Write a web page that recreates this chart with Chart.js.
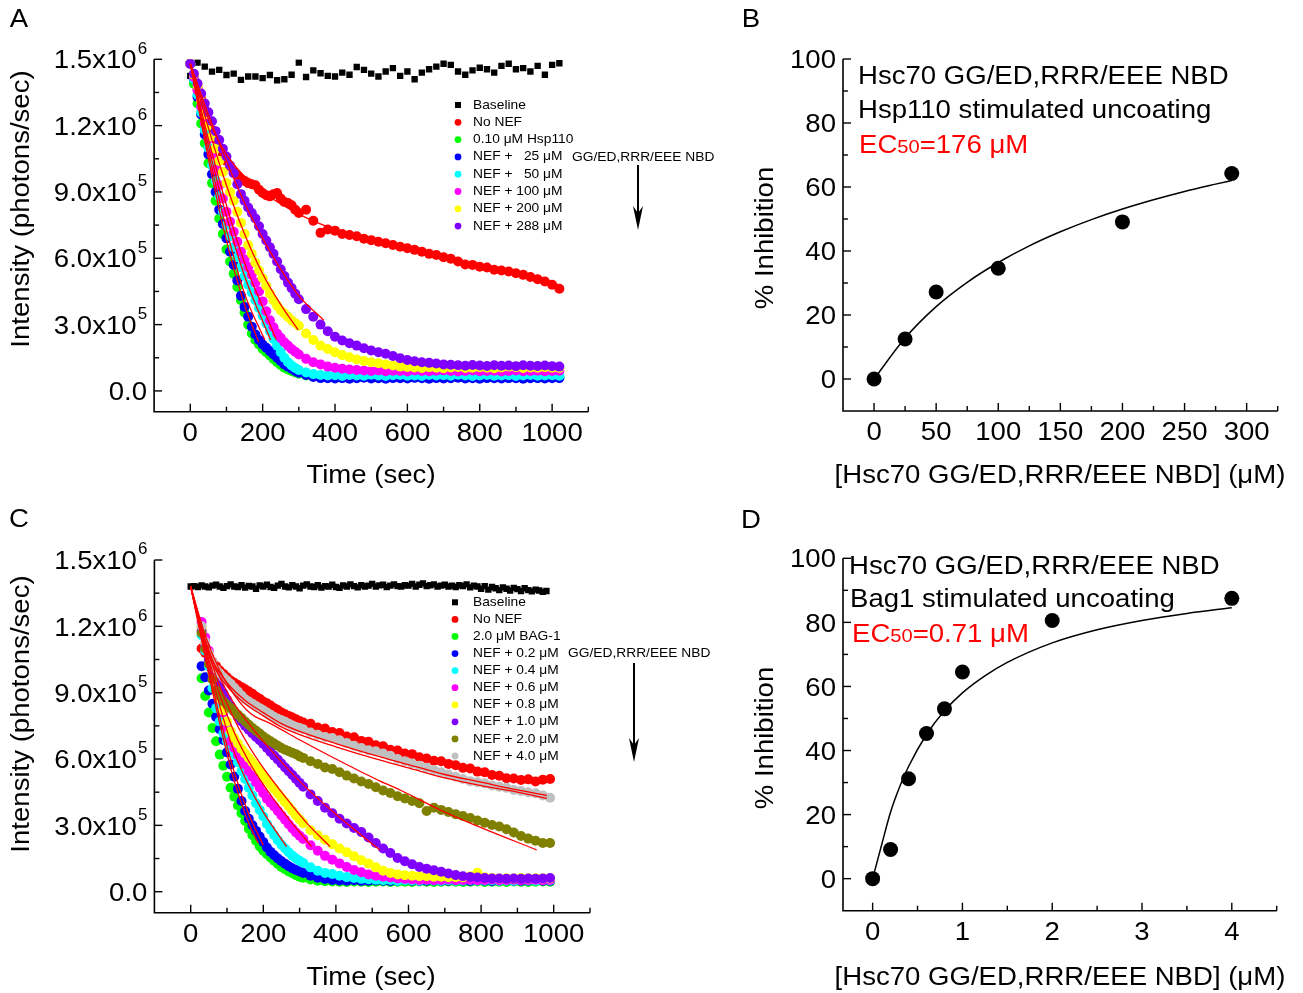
<!DOCTYPE html>
<html>
<head>
<meta charset="utf-8">
<script src="https://cdn.jsdelivr.net/npm/chart.js@4.4.1/dist/chart.umd.min.js"></script>
<style>
  body { margin: 0; background: #fff; }
  canvas { position: absolute; left: 0; top: 0; }
</style>
</head>
<body>
<canvas id="cA" width="1303" height="993"></canvas>
<canvas id="cB" width="1303" height="993"></canvas>
<canvas id="cC" width="1303" height="993"></canvas>
<canvas id="cD" width="1303" height="993"></canvas>
<script>
// ---------- data (intensity values in units of 1e5 photons/sec) ----------
// panel A: readings every 10 s for the fast part, every 20 s afterwards
const tEarlyA = [0,10,20,30,40,50,60,70,80,90,100,110,120,130,140,150,160,170,180,190,
  200,210,220,230,240,250,260,270,280,290,300];
const tLateA = [320,340,360,380,400,420,440,460,480,500,520,540,560,580,600,620,640,660,680,700,
  720,740,760,780,800,820,840,860,880,900,920,940,960,980,1000,1020];
const tBaseA = [0,20,40,60,80,100,120,140,160,180,200,220,240,260,280,300,320,340,360,380,
  400,420,440,460,480,500,520,540,560,580,600,620,640,660,680,700,720,740,760,780,
  800,820,840,860,880,900,920,940,960,980,1000,1020];

const baseA = [14.25,14.85,14.67,14.44,14.52,14.29,14.35,14.07,14.22,14.22,
  14.15,14.29,14.05,14.1,14.3,14.85,14.2,14.5,14.37,14.25,
  14.22,14.4,14.3,14.65,14.52,14.35,14.22,14.45,14.6,14.25,
  14.45,14.1,14.4,14.55,14.67,14.8,14.75,14.45,14.3,14.5,
  14.62,14.55,14.4,14.7,14.8,14.55,14.6,14.45,14.7,14.3,
  14.75,14.82];

const noNefA_early = [14.8,14.2,13.7,13.2,12.7,12.2,11.8,11.4,11.0,10.7,10.4,10.15,9.9,9.75,9.6,9.5,
  9.4,9.35,9.3,9.1,8.95,8.85,8.8,8.9,8.95,8.7,8.55,8.5,8.4,8.2,8.05];
const noNefA_late = [8.2,7.7,7.15,7.3,7.25,7.1,7.05,7.0,6.88,6.82,6.75,6.68,6.6,6.52,6.45,6.38,6.3,6.2,
  6.15,6.05,5.98,5.85,5.72,5.7,5.62,5.58,5.48,5.45,5.4,5.32,5.25,5.15,5.05,4.95,4.8,4.62];
const hsp110A_early = [14.8,13.9,13.0,12.1,11.2,10.3,9.4,8.6,7.8,7.1,6.4,5.85,5.3,4.7,4.1,3.55,
  3.0,2.6,2.3,2.1,1.9,1.75,1.6,1.45,1.3,1.17,1.05,0.97,0.9,0.84,0.78];
const hsp110A_late = [0.7,0.67,0.65,0.64,0.65,0.63,0.66,0.64,0.65,0.63,0.64,0.66,0.65,0.64,0.63,0.65,0.64,0.66,
  0.65,0.63,0.64,0.65,0.66,0.64,0.63,0.65,0.64,0.65,0.66,0.64,0.63,0.65,0.64,0.65,0.64,0.63];
const nef25A_early = [14.8,14.1,13.3,12.5,11.6,10.7,9.8,9.0,8.2,7.55,6.9,6.3,5.7,5.0,4.3,3.8,
  3.36,2.9,2.55,2.3,2.1,1.95,1.8,1.65,1.5,1.35,1.2,1.1,1.0,0.9,0.82];
const nef25A_late = [0.72,0.63,0.58,0.57,0.56,0.58,0.55,0.57,0.6,0.56,0.57,0.55,0.58,0.57,0.56,0.59,0.57,0.55,
  0.58,0.56,0.57,0.6,0.56,0.57,0.55,0.58,0.57,0.56,0.58,0.57,0.55,0.57,0.58,0.56,0.57,0.58];
const nef50A_early = [14.8,14.1,13.4,12.6,11.8,11.0,10.2,9.5,8.8,8.1,7.5,7.0,6.5,6.05,5.6,5.2,
  4.8,4.45,4.1,3.75,3.4,3.05,2.7,2.35,2.05,1.75,1.5,1.3,1.15,1.04,0.95];
const nef50A_late = [0.83,0.76,0.72,0.7,0.71,0.68,0.72,0.7,0.69,0.73,0.7,0.68,0.71,0.72,0.69,0.7,0.68,0.72,
  0.7,0.71,0.69,0.73,0.7,0.68,0.7,0.72,0.69,0.7,0.71,0.68,0.7,0.72,0.69,0.7,0.71,0.69];
const nef100A_early = [14.8,14.2,13.6,12.85,12.1,11.4,10.7,10.0,9.3,8.7,8.1,7.65,7.2,6.75,6.3,5.95,
  5.6,5.25,4.9,4.5,4.05,3.6,3.2,2.88,2.6,2.4,2.2,2.05,1.9,1.77,1.65];
const nef100A_late = [1.45,1.3,1.2,1.1,1.05,1.0,0.97,0.95,0.92,0.9,0.93,0.89,0.91,0.9,0.88,0.92,0.9,0.89,
  0.91,0.93,0.9,0.88,0.9,0.92,0.89,0.9,0.91,0.88,0.9,0.92,0.89,0.9,0.91,0.89,0.9,0.91];
const nef200A_early = [14.8,14.3,13.8,13.1,12.5,12.0,11.5,10.95,10.4,9.9,9.4,9.0,8.6,8.1,7.6,7.1,
  6.6,6.2,5.8,5.45,5.1,4.75,4.4,4.1,3.85,3.65,3.5,3.35,3.2,3.07,2.95];
const nef200A_late = [2.6,2.3,2.05,1.9,1.75,1.62,1.52,1.42,1.35,1.3,1.25,1.2,1.15,1.1,1.08,1.06,1.04,1.07,
  1.05,1.03,1.06,1.08,1.04,1.05,1.07,1.05,1.03,1.06,1.1,1.07,1.04,1.06,1.05,1.07,1.05,1.04];
const nef288A_early = [14.8,14.35,13.9,13.45,13.0,12.6,12.2,11.75,11.35,10.95,10.6,10.2,9.85,9.35,8.9,8.6,
  8.3,8.05,7.8,7.45,7.1,6.8,6.5,6.2,5.85,5.5,5.2,4.9,4.65,4.4,4.15];
const nef288A_late = [3.7,3.36,3.0,2.7,2.45,2.28,2.16,2.05,1.93,1.83,1.75,1.68,1.58,1.48,1.4,1.34,1.3,1.27,
  1.24,1.2,1.18,1.16,1.14,1.17,1.15,1.13,1.16,1.14,1.15,1.12,1.16,1.14,1.13,1.15,1.12,1.1];

// fitted curves, panel A (time, value)
const fitA_noNef_t = [0,50,100,150,200,300,400,500,600,700,800,900,1020];
const fitA_noNef_v = [14.8,12.3,10.7,9.7,9.0,8.0,7.3,6.8,6.4,6.0,5.7,5.3,4.8];
const fitA_hsp_t = [0,50,100,150,189];
const fitA_hsp_v = [14.8,10.5,6.8,3.9,2.2];
const fitA_25_t = [0,50,100,150,206];
const fitA_25_v = [14.8,10.8,7.3,4.4,2.3];
const fitA_50_t = [0,50,100,150,222];
const fitA_50_v = [14.8,11.1,7.9,5.2,2.3];
const fitA_100_t = [0,50,100,150,200,238];
const fitA_100_v = [14.8,11.4,8.4,5.8,3.8,2.3];
const fitA_200_t = [0,50,100,150,200,250,298];
const fitA_200_v = [14.8,11.9,9.3,7.1,5.3,3.9,2.76];
const fitA_288_t = [0,50,100,150,200,250,300,369];
const fitA_288_v = [14.8,12.5,10.4,8.5,6.9,5.5,4.3,3.2];

// panel C
const tBaseC = [0,10,20,30,40,50,60,70,80,90,100,110,120,130,140,150,160,170,180,190,
  200,210,220,230,240,250,260,270,280,290,300,310,320,330,340,350,360,370,380,390,
  400,410,420,430,440,450,460,470,480,490,500,510,520,530,540,550,560,570,580,590,
  600,610,620,630,640,650,660,670,680,690,700,710,720,730,740,750,760,770,780,790,
  800,810,820,830,840,850,860,870,880,890,900,910,920,930,940,950,960,970,980];
const tEarlyC = [30,40,50,60,70,80,90,100,110,120,130,140,150,160,170,180,190,200,210,220,
  230,240,250,260,270,280,290,300,310];
const tLateC = [330,350,370,390,410,430,450,470,490,510,530,550,570,590,610,630,650,670,690,710,
  730,750,770,790,810,830,850,870,890,910,930,950,970,990];

const baseC = [13.8,13.82,13.78,13.85,13.8,13.76,13.84,13.88,13.8,13.74,
  13.82,13.9,13.8,13.78,13.86,13.75,13.83,13.8,13.7,13.85,
  13.8,13.88,13.78,13.74,13.84,13.92,13.8,13.76,13.86,13.8,
  13.72,13.84,13.9,13.8,13.78,13.86,13.75,13.82,13.8,13.88,
  13.78,13.74,13.85,13.8,13.9,13.82,13.76,13.86,13.8,13.84,
  13.92,13.8,13.85,13.88,13.78,13.84,13.9,13.82,13.8,13.86,
  13.84,13.92,13.8,13.88,13.94,13.82,13.86,13.9,13.8,13.84,
  13.88,13.8,13.84,13.78,13.86,13.82,13.9,13.76,13.84,13.8,
  13.7,13.82,13.66,13.78,13.72,13.64,13.76,13.7,13.62,13.74,
  13.68,13.6,13.72,13.64,13.58,13.66,13.62,13.56,13.6];

const noNefC_early = [11.0,10.8,10.6,10.4,10.2,10.0,9.85,9.7,9.55,9.45,9.35,9.25,9.15,9.05,8.95,
  8.82,8.72,8.6,8.52,8.42,8.3,8.22,8.1,8.02,7.95,7.88,7.8,7.72,7.65];
const noNefC_late = [7.6,7.42,7.38,7.22,7.18,7.02,6.98,6.82,6.78,6.62,6.58,6.42,6.38,6.25,6.22,6.08,6.02,
  5.92,5.9,5.78,5.72,5.6,5.57,5.43,5.4,5.28,5.24,5.13,5.12,5.05,5.08,4.98,5.06,5.1];
const bag1C_early = [9.65,8.85,8.1,7.4,6.8,6.2,5.7,5.2,4.7,4.3,3.9,3.55,3.2,2.85,2.55,
  2.3,2.05,1.85,1.7,1.55,1.4,1.25,1.12,1.02,0.92,0.83,0.75,0.68,0.63];
const bag1C_late = [0.55,0.5,0.47,0.46,0.45,0.44,0.46,0.45,0.44,0.45,0.46,0.44,0.45,0.45,0.44,0.46,0.45,
  0.44,0.45,0.46,0.45,0.44,0.45,0.46,0.44,0.45,0.45,0.44,0.46,0.45,0.44,0.45,0.46,0.45];
const nef02C_early = [10.2,9.7,9.1,8.5,7.9,7.35,6.86,6.3,5.75,5.2,4.65,4.1,3.65,3.3,3.0,
  2.75,2.5,2.25,2.0,1.8,1.65,1.5,1.38,1.26,1.15,1.06,0.98,0.91,0.85];
const nef02C_late = [0.72,0.63,0.57,0.53,0.51,0.5,0.52,0.49,0.5,0.51,0.5,0.48,0.5,0.52,0.5,0.49,0.5,
  0.51,0.49,0.5,0.52,0.5,0.49,0.51,0.5,0.48,0.5,0.51,0.5,0.49,0.5,0.52,0.5,0.49];
const nef04C_early = [11.6,10.9,10.2,9.2,8.3,7.7,7.15,6.8,6.5,6.2,5.85,5.45,5.1,4.7,4.35,
  4.0,3.7,3.4,3.06,2.8,2.55,2.33,2.12,1.95,1.78,1.63,1.5,1.4,1.3];
const nef04C_late = [1.1,0.95,0.85,0.8,0.72,0.66,0.62,0.58,0.56,0.54,0.52,0.53,0.5,0.52,0.51,0.5,0.53,
  0.51,0.5,0.52,0.5,0.51,0.53,0.5,0.51,0.52,0.5,0.51,0.5,0.52,0.51,0.5,0.52,0.51];
const nef06C_early = [12.2,11.5,10.9,10.2,9.5,8.8,8.1,7.4,6.8,6.5,6.2,5.95,5.75,5.45,5.2,
  4.95,4.7,4.45,4.2,4.02,3.85,3.65,3.45,3.25,3.05,2.86,2.68,2.53,2.38];
const nef06C_late = [2.1,1.85,1.62,1.45,1.28,1.12,0.98,0.88,0.78,0.72,0.68,0.64,0.6,0.57,0.55,0.53,0.54,
  0.52,0.53,0.55,0.52,0.53,0.54,0.52,0.53,0.55,0.52,0.53,0.54,0.52,0.53,0.54,0.52,0.53];
const nef08C_early = [11.9,11.2,10.5,9.9,9.3,8.75,8.2,7.7,7.25,6.95,6.7,6.45,6.25,6.05,5.85,
  5.65,5.45,5.25,5.05,4.85,4.65,4.45,4.25,4.05,3.85,3.65,3.45,3.27,3.1];
const nef08C_late = [2.78,2.55,2.35,2.15,1.95,1.78,1.6,1.42,1.27,1.1,0.95,0.85,0.78,0.74,0.72,0.7,0.7,
  0.68,0.68,0.66,0.66,0.65,0.7,0.86,0.65,0.62,0.6,0.61,0.6,0.62,0.6,0.61,0.6,0.6];
const nef10C_early = [11.8,11.1,10.5,10.0,9.6,9.25,8.97,8.68,8.4,8.15,7.9,7.7,7.5,7.32,7.15,
  7.0,6.85,6.68,6.5,6.32,6.15,5.98,5.8,5.62,5.45,5.28,5.1,4.92,4.75];
const nef10C_late = [4.4,4.1,3.8,3.55,3.3,3.08,2.88,2.7,2.45,2.2,1.95,1.75,1.52,1.38,1.24,1.12,1.04,
  0.97,0.9,0.82,0.75,0.7,0.67,0.64,0.62,0.6,0.6,0.59,0.6,0.58,0.6,0.59,0.6,0.62];
const nef20C_early = [11.7,11.0,10.3,9.6,9.1,8.85,8.6,8.45,8.3,8.15,8.0,7.85,7.7,7.55,7.4,
  7.28,7.15,7.02,6.9,6.8,6.7,6.6,6.5,6.42,6.35,6.28,6.22,6.12,6.05];
const nef20C_late = [5.9,5.78,5.62,5.55,5.4,5.25,5.12,4.98,4.87,4.72,4.58,4.46,4.32,4.22,4.1,4.0,3.65,
  3.8,3.7,3.6,3.5,3.42,3.33,3.22,3.12,3.02,2.95,2.82,2.68,2.52,2.4,2.3,2.2,2.2];
const nef40C_early = [12.0,11.3,10.8,10.4,10.05,9.87,9.7,9.55,9.4,9.22,9.05,8.87,8.7,8.6,8.5,
  8.4,8.3,8.2,8.1,8.0,7.9,7.82,7.75,7.68,7.6,7.52,7.45,7.4,7.35];
const nef40C_late = [7.2,7.1,7.0,6.95,6.85,6.72,6.6,6.5,6.4,6.35,6.25,6.15,6.0,5.9,5.8,5.7,5.6,
  5.5,5.4,5.3,5.2,5.1,5.0,4.95,4.9,4.8,4.75,4.7,4.6,4.55,4.5,4.45,4.35,4.25];

// fitted curves, panel C
const fitC_slow_t = [0,30,60,100,150,200,250,300,400,500,600,700,800,900,981];
const fitC_noNef_v = [13.8,11.7,10.45,9.45,8.65,8.1,7.6,7.25,6.7,6.2,5.75,5.3,4.95,4.6,4.35];
const fitC_40_v = [13.8,11.6,10.3,9.3,8.5,7.95,7.45,7.1,6.55,6.05,5.6,5.15,4.8,4.5,4.22];
const fitC_20_t = [0,40,80,120,164,220,301,400,522,577,700,800,953];
const fitC_20_v = [13.8,11.6,10.0,8.9,8.07,7.6,6.86,6.0,5.0,4.6,3.6,2.9,1.89];
const fitC_10_t = [0,40,80,120,160,200,300,400,521];
const fitC_10_v = [13.8,11.4,9.7,8.5,7.6,6.8,5.0,3.5,1.89];
const fitC_08_t = [0,40,80,120,160,200,260,320,384];
const fitC_08_v = [13.8,11.3,9.3,7.8,6.6,5.6,4.3,3.1,2.04];
const fitC_06_t = [0,40,80,120,160,200,260,333];
const fitC_06_v = [13.8,11.1,8.9,7.2,5.9,4.85,3.5,2.04];
const fitC_04_t = [0,40,80,120,160,200,264];
const fitC_04_v = [13.8,11.0,8.4,6.3,4.8,3.6,2.04];
const fitC_02_t = [0,40,80,120,160,200];
const fitC_02_v = [13.8,10.8,7.9,5.4,3.5,2.1];
const fitC_bag_t = [0,40,80,120,160,186];
const fitC_bag_v = [13.8,10.6,7.6,5.0,3.1,2.2];

// panels B and D (% inhibition)
const concB = [0,25,50,100,200,288];
const inhB = [0,12.5,27.2,34.6,49.1,64.2];
const fitB_x = [0,25,50,75,100,125,150,175,200,225,250,275,288];
const fitB_y = [0,12.8,22.6,30.2,36.4,41.6,46.0,49.8,53.1,56.0,58.6,60.9,62.05];
const concD = [0,0.2,0.4,0.6,0.8,1.0,2.0,4.0];
const inhD = [0,9.1,31.2,45.3,53,64.5,80.6,87.5];
const fitD_x = [0,0.1,0.2,0.3,0.4,0.6,0.8,1.0,1.25,1.5,2,2.5,3,3.5,4];
const fitD_y = [0,10.5,20.8,28.6,35.0,45.0,52.4,58.0,63.3,67.5,73.6,77.7,80.6,82.8,84.6];

// legends
const legendA = ['Baseline','No NEF','0.10 \u03bcM Hsp110','NEF +   25 \u03bcM','NEF +   50 \u03bcM',
  'NEF + 100 \u03bcM','NEF + 200 \u03bcM','NEF + 288 \u03bcM'];
const legendC = ['Baseline','No NEF','2.0 \u03bcM BAG-1','NEF + 0.2 \u03bcM','NEF + 0.4 \u03bcM',
  'NEF + 0.6 \u03bcM','NEF + 0.8 \u03bcM','NEF + 1.0 \u03bcM','NEF + 2.0 \u03bcM','NEF + 4.0 \u03bcM'];

// ticks
const timeTicks = [0,200,400,600,800,1000];
const timeTickLabels = ['0','200','400','600','800','1000'];
const timeMinor = [100,300,500,700,900,1100];
const intTicks = [0,3,6,9,12,15];
const intTickLabels = ['0.0','3.0x10^5','6.0x10^5','9.0x10^5','1.2x10^6','1.5x10^6'];
const intMinor = [1.5,4.5,7.5,10.5,13.5];
const concTicksB = [0,50,100,150,200,250,300];
const concTickLabelsB = ['0','50','100','150','200','250','300'];
const concMinorB = [25,75,125,175,225,275,325];
const concTicksD = [0,1,2,3,4];
const concTickLabelsD = ['0','1','2','3','4'];
const concMinorD = [0.5,1.5,2.5,3.5,4.5];
const inhTicks = [0,20,40,60,80,100];
const inhTickLabels = ['0','20','40','60','80','100'];
const inhMinor = [10,30,50,70,90];

// ---------- drawing helpers ----------
const FONT = "'Liberation Sans', Arial, sans-serif";
const SX = 1.06;   // the figure is slightly wider than tall
const C = { black:'#000000', red:'#ff0000', green:'#00ff00', blue:'#0000ff', cyan:'#00ffff',
  magenta:'#ff00ff', yellow:'#ffff00', purple:'#8000ff', olive:'#808000', gray:'#c0c0c0' };

function txt(ctx, s, x, y, size, o = {}) {
  ctx.save();
  ctx.translate(x, y);
  if (o.rot) ctx.rotate(o.rot);
  ctx.scale(SX, 1);
  ctx.font = size + 'px ' + FONT;
  ctx.fillStyle = o.color || '#000';
  ctx.textAlign = o.align || 'left';
  ctx.textBaseline = o.base || 'middle';
  ctx.fillText(s, 0, 0);
  ctx.restore();
}

function powLabel(ctx, s, xr, y) {
  const [b, p] = s.split('^');
  ctx.save();
  ctx.translate(xr, y);
  ctx.scale(SX, 1);
  ctx.fillStyle = '#000';
  ctx.textBaseline = 'middle';
  ctx.textAlign = 'left';
  ctx.font = '16px ' + FONT;
  const pw = p ? ctx.measureText(p).width + 1 : 0;
  ctx.font = '26px ' + FONT;
  const bw = ctx.measureText(b).width;
  ctx.fillText(b, -bw - pw, 2);
  if (p) { ctx.font = '16px ' + FONT; ctx.fillText(p, -pw + 1, -10); }
  ctx.restore();
}

function ecLabel(ctx, x, y, tail) {
  ctx.save();
  ctx.translate(x, y);
  ctx.scale(SX, 1);
  ctx.fillStyle = C.red;
  ctx.textBaseline = 'alphabetic';
  ctx.font = '26px ' + FONT;
  ctx.fillText('EC', 0, 0);
  let w = ctx.measureText('EC').width;
  ctx.font = '19px ' + FONT;
  ctx.fillText('50', w, 0);
  w += ctx.measureText('50').width;
  ctx.font = '26px ' + FONT;
  ctx.fillText(tail, w, 0);
  ctx.restore();
}

function arrow(ctx, x, y0, y1) {
  ctx.save();
  ctx.strokeStyle = '#000';
  ctx.fillStyle = '#000';
  ctx.lineWidth = 2;
  ctx.beginPath(); ctx.moveTo(x, y0); ctx.lineTo(x, y1 - 12); ctx.stroke();
  ctx.beginPath();
  ctx.moveTo(x, y1); ctx.lineTo(x - 5, y1 - 24); ctx.lineTo(x, y1 - 17); ctx.lineTo(x + 5, y1 - 24);
  ctx.closePath(); ctx.fill();
  ctx.restore();
}

function drawLegend(ctx, labels, colors, mx, tx, y0, dy) {
  labels.forEach((lab, i) => {
    const y = y0 + i * dy;
    ctx.fillStyle = colors[i];
    if (i === 0) ctx.fillRect(mx - 3, y - 3, 6, 6);
    else { ctx.beginPath(); ctx.arc(mx, y, 3.4, 0, Math.PI * 2); ctx.fill(); }
    txt(ctx, lab, tx, y, 13);
  });
}

// axes: L-shaped frame with inward ticks
function framePlugin(cfg) {
  return {
    id: 'frame',
    afterDraw(chart) {
      const { ctx, chartArea: a } = chart;
      const xs = chart.scales.x, ys = chart.scales.y;
      ctx.save();
      ctx.strokeStyle = '#000';
      ctx.lineWidth = 1.6;
      ctx.beginPath();
      ctx.moveTo(a.left, a.top); ctx.lineTo(a.left, a.bottom); ctx.lineTo(a.right, a.bottom);
      ctx.stroke();
      ctx.lineWidth = 1.4;
      const seg = (x0, y0, x1, y1) => { ctx.beginPath(); ctx.moveTo(x0, y0); ctx.lineTo(x1, y1); ctx.stroke(); };
      cfg.xMinor.forEach(v => { const p = xs.getPixelForValue(v); seg(p, a.bottom, p, a.bottom - 5); });
      cfg.xTicks.forEach(v => { const p = xs.getPixelForValue(v); seg(p, a.bottom, p, a.bottom - 8); });
      cfg.yMinor.forEach(v => { const p = ys.getPixelForValue(v); seg(a.left, p, a.left + 5, p); });
      cfg.yTicks.forEach(v => { const p = ys.getPixelForValue(v); seg(a.left, p, a.left + 8, p); });
      ctx.restore();
      cfg.xLabels.forEach((s, i) => txt(ctx, s, xs.getPixelForValue(cfg.xTicks[i]), a.bottom + 22, 26, { align: 'center' }));
      cfg.yLabels.forEach((s, i) => powLabel(ctx, s, a.left - 7, ys.getPixelForValue(cfg.yTicks[i])));
      txt(ctx, cfg.xTitle[0], cfg.xTitle[1], cfg.xTitle[2], 26, { align: 'center' });
      txt(ctx, cfg.yTitle[0], cfg.yTitle[1], cfg.yTitle[2], 26, { align: 'center', rot: -Math.PI / 2 });
      txt(ctx, cfg.letter[0], cfg.letter[1], cfg.letter[2], 26, { align: 'center' });
      if (cfg.extra) cfg.extra(ctx);
    }
  };
}

function pts(xs, ys) {
  const n = Math.min(xs.length, ys.length);
  return xs.slice(0, n).map((x, i) => ({ x, y: ys[i] }));
}
function dots(data, color, order, style, r) {
  return { data, showLine: false, pointStyle: style || 'circle', pointRadius: r || 5,
    pointBackgroundColor: color, pointBorderColor: color, pointBorderWidth: 0, order };
}
function curve(xs, ys, color, width) {
  return { data: pts(xs, ys), showLine: true, pointRadius: 0, borderColor: color, borderWidth: width || 1.3,
    tension: 0.4, cubicInterpolationMode: 'monotone', fill: false, order: -100 };
}
const seriesA = (early, late) => pts(tEarlyA, early).concat(pts(tLateA, late));
const seriesC = (early, late) => pts(tEarlyC, early).concat(pts(tLateC, late));

function makeChart(id, datasets, area, xr, yr, cfg) {
  return new Chart(document.getElementById(id), {
    type: 'scatter',
    data: { datasets },
    options: {
      responsive: false, animation: false, devicePixelRatio: 1, events: [],
      layout: { padding: { left: area[0], top: area[1], right: 1303 - area[2], bottom: 993 - area[3] } },
      scales: {
        x: { type: 'linear', min: xr[0], max: xr[1], display: false },
        y: { type: 'linear', min: yr[0], max: yr[1], display: false }
      },
      plugins: { legend: { display: false }, tooltip: { enabled: false } }
    },
    plugins: [framePlugin(cfg)]
  });
}

// ---------- panel A ----------
const colorsA = [C.black, C.red, C.green, C.blue, C.cyan, C.magenta, C.yellow, C.purple];
makeChart('cA', [
  dots(pts(tBaseA, baseA), C.black, 50, 'rect', 4.5),
  dots(seriesA(noNefA_early, noNefA_late), C.red, 49),
  dots(seriesA(hsp110A_early, hsp110A_late), C.green, 48),
  dots(seriesA(nef25A_early, nef25A_late), C.blue, 47),
  dots(seriesA(nef50A_early, nef50A_late), C.cyan, 46),
  dots(seriesA(nef100A_early, nef100A_late), C.magenta, 45),
  dots(seriesA(nef200A_early, nef200A_late), C.yellow, 44),
  dots(seriesA(nef288A_early, nef288A_late), C.purple, 43),
  curve(fitA_noNef_t, fitA_noNef_v, C.red),
  curve(fitA_hsp_t, fitA_hsp_v, C.red),
  curve(fitA_25_t, fitA_25_v, C.red),
  curve(fitA_50_t, fitA_50_v, C.red),
  curve(fitA_100_t, fitA_100_v, C.red),
  curve(fitA_200_t, fitA_200_v, C.red),
  curve(fitA_288_t, fitA_288_v, C.red)
], [154.1, 59.3, 588.3, 411.7], [-100, 1100], [-0.94, 15], {
  xTicks: timeTicks, xLabels: timeTickLabels, xMinor: timeMinor,
  yTicks: intTicks, yLabels: intTickLabels, yMinor: intMinor,
  xTitle: ['Time (sec)', 371, 476], yTitle: ['Intensity (photons/sec)', 22, 209], letter: ['A', 19, 20],
  extra(ctx) {
    drawLegend(ctx, legendA, colorsA, 458, 473, 105, 17.3);
    txt(ctx, 'GG/ED,RRR/EEE NBD', 572, 157.6, 13);
    arrow(ctx, 638, 165, 230);
  }
});

// ---------- panel B ----------
makeChart('cB', [
  dots(pts(concB, inhB), C.black, 10, 'circle', 7.5),
  curve(fitB_x, fitB_y, C.black, 1.5)
], [843, 59, 1277.7, 411], [-25, 325], [-10, 100], {
  xTicks: concTicksB, xLabels: concTickLabelsB, xMinor: concMinorB,
  yTicks: inhTicks, yLabels: inhTickLabels, yMinor: inhMinor,
  xTitle: ['[Hsc70 GG/ED,RRR/EEE NBD] (\u03bcM)', 1060, 476], yTitle: ['% Inhibition', 766, 238],
  letter: ['B', 751, 20],
  extra(ctx) {
    txt(ctx, 'Hsc70 GG/ED,RRR/EEE NBD', 858, 83.5, 26, { base: 'alphabetic' });
    txt(ctx, 'Hsp110 stimulated uncoating', 858, 118.3, 26, { base: 'alphabetic' });
    ecLabel(ctx, 859, 152.7, '=176 \u03bcM');
  }
});

// ---------- panel C ----------
const colorsC = [C.black, C.red, C.green, C.blue, C.cyan, C.magenta, C.yellow, C.purple, C.olive, C.gray];
makeChart('cC', [
  dots(pts(tBaseC, baseC), C.black, 50, 'rect', 4.5),
  dots(seriesC(noNefC_early, noNefC_late), C.red, 49),
  dots(seriesC(bag1C_early, bag1C_late), C.green, 48),
  dots(seriesC(nef02C_early, nef02C_late), C.blue, 47),
  dots(seriesC(nef04C_early, nef04C_late), C.cyan, 46),
  dots(seriesC(nef06C_early, nef06C_late), C.magenta, 45),
  dots(seriesC(nef08C_early, nef08C_late), C.yellow, 44),
  dots(seriesC(nef10C_early, nef10C_late), C.purple, 43),
  dots(seriesC(nef20C_early, nef20C_late), C.olive, 42),
  dots(seriesC(nef40C_early, nef40C_late), C.gray, 41),
  curve(fitC_slow_t, fitC_noNef_v, C.red),
  curve(fitC_slow_t, fitC_40_v, C.red),
  curve(fitC_20_t, fitC_20_v, C.red),
  curve(fitC_10_t, fitC_10_v, C.red),
  curve(fitC_08_t, fitC_08_v, C.red),
  curve(fitC_06_t, fitC_06_v, C.red),
  curve(fitC_04_t, fitC_04_v, C.red),
  curve(fitC_02_t, fitC_02_v, C.red),
  curve(fitC_bag_t, fitC_bag_v, C.red)
], [154.4, 560, 590, 912.7], [-100, 1100], [-0.95, 15], {
  xTicks: timeTicks, xLabels: timeTickLabels, xMinor: timeMinor,
  yTicks: intTicks, yLabels: intTickLabels, yMinor: intMinor,
  xTitle: ['Time (sec)', 371, 978], yTitle: ['Intensity (photons/sec)', 22, 714], letter: ['C', 19, 520],
  extra(ctx) {
    drawLegend(ctx, legendC, colorsC, 455, 473, 602.3, 17.08);
    txt(ctx, 'GG/ED,RRR/EEE NBD', 568, 653.3, 13);
    arrow(ctx, 634, 663, 762);
  }
});

// ---------- panel D ----------
makeChart('cD', [
  dots(pts(concD, inhD), C.black, 10, 'circle', 7.5),
  curve(fitD_x, fitD_y, C.black, 1.5)
], [843, 558.3, 1276.7, 910.7], [-0.33, 4.5], [-10, 100], {
  xTicks: concTicksD, xLabels: concTickLabelsD, xMinor: concMinorD,
  yTicks: inhTicks, yLabels: inhTickLabels, yMinor: inhMinor,
  xTitle: ['[Hsc70 GG/ED,RRR/EEE NBD] (\u03bcM)', 1060, 978], yTitle: ['% Inhibition', 766, 738],
  letter: ['D', 751, 521],
  extra(ctx) {
    txt(ctx, 'Hsc70 GG/ED,RRR/EEE NBD', 849, 574.3, 26, { base: 'alphabetic' });
    txt(ctx, 'Bag1 stimulated uncoating', 850, 606.7, 26, { base: 'alphabetic' });
    ecLabel(ctx, 852, 641.7, '=0.71 \u03bcM');
  }
});
</script>
</body>
</html>
